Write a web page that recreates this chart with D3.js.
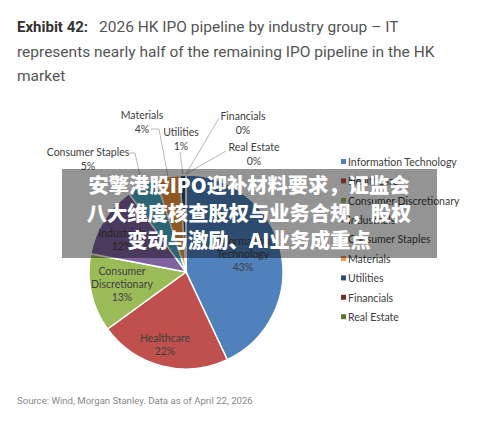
<!DOCTYPE html>
<head>
  <meta charset='utf-8'>
  <style>
    body { margin: 0; background: #fff; }
    .title { font-family: Roboto, sans-serif; font-size: 15.5px; fill: #555; }
    .title .bold { font-weight: bold; fill: #333; font-size: 15px; }
    .source { font-family: Roboto, sans-serif; font-size: 9.6px; fill: #888; }
    .lbl, .legend text { font-family: Lato, 'Open Sans', sans-serif; font-size: 10.5px; fill: #404040; }
    .leader { stroke: #a6a6a6; stroke-width: 0.8px; fill: none; }
    .slice { stroke: #fff; stroke-width: 1.5px; }
    .banner text { font-family: 'Noto Sans CJK SC', sans-serif; font-size: 20.3px; font-weight: 900; fill: #fff; }
  </style>
</head>
<body>
<script src='https://cdnjs.cloudflare.com/ajax/libs/d3/7.8.5/d3.min.js'></script>
<script>
    var
        W = 500,
        H = 430,
        R = 97,
        CX = 186,
        CY = 272;

    // data
    var sectors = ['Information Technology', 'Healthcare', 'Consumer Discretionary', 'Industrials',
                   'Consumer Staples', 'Materials', 'Utilities', 'Financials', 'Real Estate'];
    var shares = [43, 22, 13, 12, 5, 4, 1, 0, 0];
    var colours = ['#4f81bd', '#c0504d', '#9bbb59', '#8064a2', '#4bacc6', '#f79646', '#2c4d75', '#772c2a', '#5f7530'];
    var titleLines = ['2026 HK IPO pipeline by industry group \u2013 IT',
                      'represents nearly half of the remaining IPO pipeline in the HK',
                      'market'];
    var bannerLines = ['安擎港股IPO迎补材料要求，证监会', '八大维度核查股权与业务合规，股权', '变动与激励、AI业务成重点'];
    var sourceText = 'Source: Wind, Morgan Stanley. Data as of April 22, 2026';

    // label placement (layout only)
    var inside = {
        'Information Technology': {x: 243, y: 245, lines: ['Information', 'Technology']},
        'Healthcare': {x: 165, y: 342, lines: ['Healthcare']},
        'Consumer Discretionary': {x: 122, y: 275, lines: ['Consumer', 'Discretionary']},
        'Industrials': {x: 122, y: 237, lines: ['Industrials']}
    };
    var outside = {
        'Consumer Staples': {x: 88, y: 156, from: [128, 153], elbow: [135, 153]},
        'Materials': {x: 142, y: 119, from: [151, 129], elbow: [159, 129]},
        'Utilities': {x: 181, y: 136, from: [180, 152], elbow: null},
        'Financials': {x: 243, y: 120, from: [219, 118], elbow: null},
        'Real Estate': {x: 254, y: 151, from: [226, 151], elbow: null}
    };

    var svg = d3.select('body').append('svg')
        .attr('width', W)
        .attr('height', H);

    // title
    var title = svg.append('text').attr('class', 'title');
    titleLines.forEach(function(t, i) {
        var ts = title.append('tspan').attr('x', 17).attr('y', 32 + i * 24.5);
        if (i === 0) {
            ts.append('tspan').attr('class', 'bold').text('Exhibit 42:');
            ts.append('tspan').attr('x', 99).text(t);
        } else {
            ts.text(t);
        }
    });

    var colour = d3.scaleOrdinal().domain(sectors).range(colours);
    var pie = d3.pie().sort(null).value(function(d) { return d.v; });
    var arcs = pie(sectors.map(function(s, i) { return {name: s, v: shares[i]}; }));
    var arc = d3.arc().innerRadius(0).outerRadius(R);
    var rim = d3.arc().innerRadius(R).outerRadius(R);

    var g = svg.append('g').attr('transform', 'translate(' + CX + ',' + CY + ')');
    g.selectAll('path.slice')
        .data(arcs)
        .enter().append('path')
        .attr('class', 'slice')
        .attr('fill', function(d) { return colour(d.data.name); })
        .attr('d', arc);

    // inside labels
    arcs.forEach(function(d) {
        var p = inside[d.data.name];
        if (!p) return;
        var t = svg.append('text').attr('class', 'lbl').attr('text-anchor', 'middle');
        p.lines.concat([d.data.v + '%']).forEach(function(s, i) {
            t.append('tspan').attr('x', p.x).attr('y', p.y + i * 13).text(s);
        });
    });

    // outside labels + leader lines
    arcs.forEach(function(d) {
        var p = outside[d.data.name];
        if (!p) return;
        var t = svg.append('text').attr('class', 'lbl').attr('text-anchor', 'middle');
        t.append('tspan').attr('x', p.x).attr('y', p.y).text(d.data.name);
        t.append('tspan').attr('x', p.x).attr('y', p.y + 14).text(d.data.v + '%');
        var end = rim.centroid(d);
        var pts = [p.from];
        if (p.elbow) pts.push(p.elbow);
        pts.push([CX + end[0], CY + end[1] - 1]);
        svg.append('path').attr('class', 'leader').attr('d', d3.line()(pts));
    });

    // legend
    var legend = svg.append('g').attr('class', 'legend')
        .selectAll('g')
        .data(sectors)
        .enter().append('g')
        .attr('transform', function(d, i) { return 'translate(341,' + (162 + i * 19.4) + ')'; });
    legend.append('rect')
        .attr('x', 0).attr('y', -3).attr('width', 5).attr('height', 5)
        .attr('fill', function(d) { return colour(d); });
    legend.append('text')
        .attr('x', 7).attr('y', 3.8)
        .text(function(d) { return d; });

    // source
    svg.append('text').attr('class', 'source')
        .attr('x', 17).attr('y', 404)
        .text(sourceText);

    // overlay banner
    var banner = svg.append('g').attr('class', 'banner');
    banner.append('rect')
        .attr('x', 62).attr('y', 169).attr('width', 375).attr('height', 89)
        .attr('fill', 'rgba(0,0,0,0.42)');
    banner.selectAll('text')
        .data(bannerLines)
        .enter().append('text')
        .attr('x', 249).attr('y', function(d, i) { return 193 + i * 27.5; })
        .attr('text-anchor', 'middle')
        .text(function(d) { return d; });
</script>
</body>
